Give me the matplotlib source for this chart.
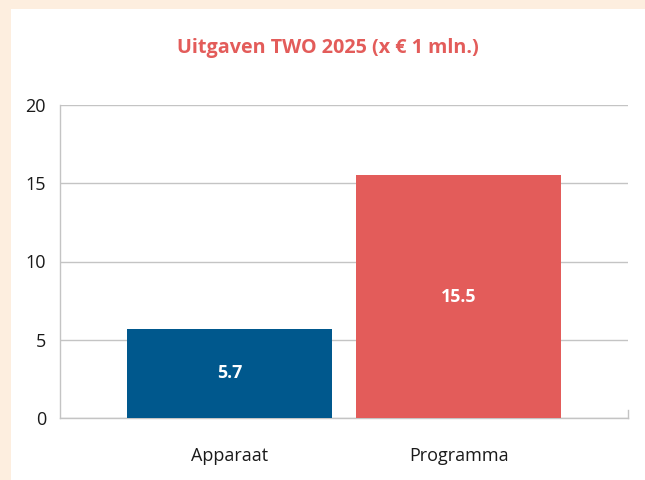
import matplotlib.pyplot as plt
from matplotlib.patches import Rectangle
from matplotlib.lines import Line2D

categories = ['Apparaat', 'Programma']
values = [5.7, 15.5]
colors = ['#00588D', '#E35C5A']
yticks = [0, 5, 10, 15, 20]

plt.rcParams['font.family'] = ['Open Sans', 'DejaVu Sans']

fig = plt.figure(figsize=(6.45, 4.8), dpi=100)
fig.patch.set_facecolor('#FDEEDF')
# white panel behind the axes
fig.patches.append(Rectangle((11 / 645, 0), 1 - 11 / 645, 1 - 9 / 480,
                             transform=fig.transFigure, facecolor='white',
                             edgecolor='none', zorder=-10))

ax = fig.add_axes([60 / 645, 62 / 480, 568 / 645, 313 / 480])
ax.set_facecolor('white')

x = range(len(categories))
bars = ax.bar(x, values, width=0.895, color=colors, zorder=3)
for b, v in zip(bars, values):
    ax.text(b.get_x() + b.get_width() / 2, v / 2, '%.1f' % v,
            ha='center', va='center', color='white', fontsize=12.8,
            fontweight='bold', zorder=4)

ax.set_xlim(-0.742, 1.738)
ax.set_ylim(0, 20)
ax.set_yticks(yticks)
ax.set_xticks(list(x))
ax.set_xticklabels(categories)
ax.tick_params(axis='y', length=0, pad=10, labelsize=13, labelcolor='#1a1a1a')
ax.tick_params(axis='x', length=0, pad=21, labelsize=13, labelcolor='#1a1a1a')
ax.yaxis.grid(True, color='#C4C4C4', linewidth=1, zorder=1)
ax.set_axisbelow(True)

for s in ['top', 'right']:
    ax.spines[s].set_visible(False)
ax.spines['left'].set_color('#C4C4C4')
ax.spines['bottom'].set_color('#C4C4C4')
ax.spines['left'].set_linewidth(1)
ax.spines['bottom'].set_linewidth(1)
ax.add_line(Line2D([1, 1], [0, 8 / 313], transform=ax.transAxes,
                   color='#C4C4C4', linewidth=1, clip_on=False))

fig.text(328 / 645, 1 - 48 / 480, 'Uitgaven TWO 2025 (x € 1 mln.)',
         ha='center', va='center', color='#E35C5A', fontsize=14.2,
         fontweight='bold')

fig.savefig('out.png', dpi=100, facecolor=fig.get_facecolor())
